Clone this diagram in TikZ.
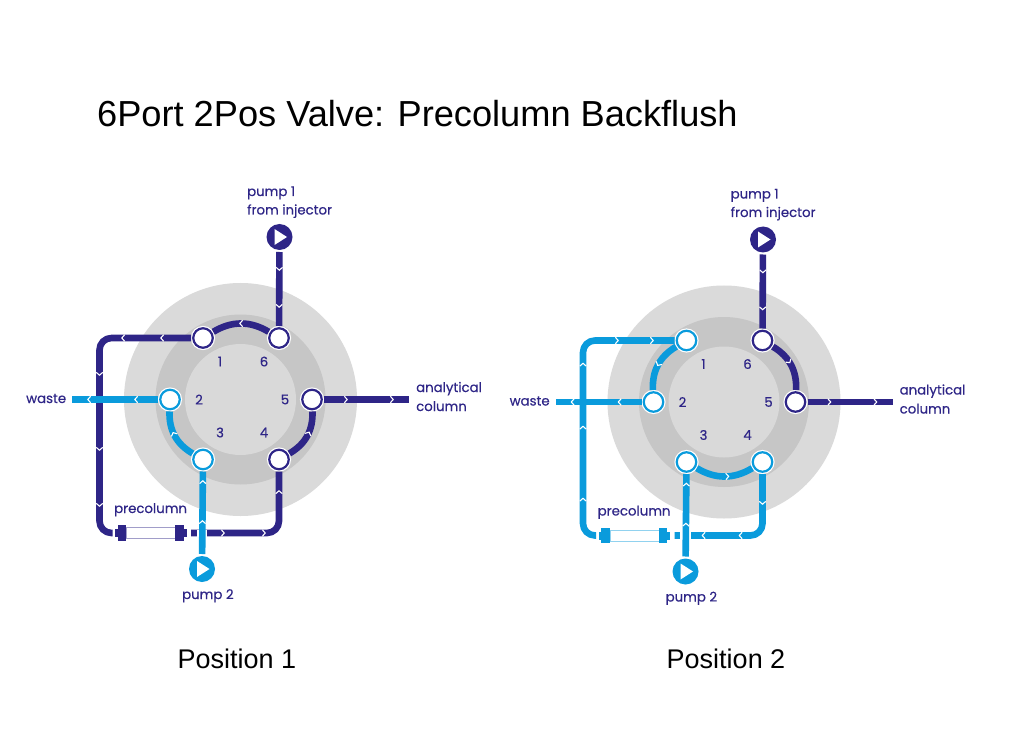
\documentclass[tikz,border=0pt]{standalone}
\usepackage{fontspec}
\setmainfont{Liberation Sans}
\newfontfamily\lab[RawFeature={embolden=0.35}]{Poppins}
\usetikzlibrary{decorations.markings}
\definecolor{dk}{HTML}{2E2587}
\definecolor{lt}{HTML}{0A9BDC}
\definecolor{gA}{HTML}{DADADA}
\definecolor{gB}{HTML}{C6C6C6}
\definecolor{gC}{HTML}{D9D9D9}
\tikzset{
  x=1pt,y=1pt,
  disc/.style={circle,draw=none,fill=#1,inner sep=0pt},
  port/.style={circle,fill=white,draw=#1,line width=2.2pt,minimum size=19.5pt,inner sep=0pt,outer sep=2.25pt,preaction={draw=white,line width=4.6pt}},
  pump/.style={circle,fill=#1,minimum size=26pt,inner sep=0pt,outer sep=2pt},
  pipe/.style={draw=#1,line width=6.6pt,line join=round},
  capn/.style={rectangle,fill=#1,inner sep=0pt,minimum width=8.5pt,minimum height=15.5pt},
  lip/.style={rectangle,fill=#1,inner sep=0pt,minimum width=3pt,minimum height=8pt},
  tube/.style={rectangle,fill=white,draw=#1!45,line width=.7pt,inner sep=0pt,minimum width=49pt,minimum height=11pt},
  txt/.style={text=dk,font=\lab\fontsize{13.3}{15}\selectfont,inner sep=0pt,anchor=base west},
  num/.style={text=dk,font=\lab\fontsize{13.3}{15}\selectfont,inner sep=0pt},
  bigtxt/.style={text=black,font=\fontsize{27}{31}\selectfont,inner sep=0pt,anchor=base},
  chev/.style={postaction={decorate,decoration={markings,mark=at position #1 with {\draw[white,line width=1.1pt,line cap=butt,line join=miter] (-1.6pt,3.2pt)--(1.2pt,0pt)--(-1.6pt,-3.2pt);}}}},
  tri/.style={fill=white,draw=none}
}
\newcommand{\Rings}{%
  \node[disc=gA,minimum size=233pt] (outer) at (0,0) {};
  \node[disc=gB,minimum size=170pt] (middle) at (0,0) {};
  \node[disc=gC,minimum size=111pt] (inner) at (0,0) {};
}
\newcommand{\Numbers}{%
  \node[num] (n1) at (-20.5,38) {1};
  \node[num] (n6) at (23.5,38) {6};
  \node[num] (n2) at (-41.5,0) {2};
  \node[num] (n5) at (44.5,0) {5};
  \node[num] (n3) at (-20.5,-33) {3};
  \node[num] (n4) at (23.5,-33) {4};
  \node[txt] (lpa) at (6.5,203.5) {pump 1};
  \node[txt] (lpb) at (6.5,185) {from injector};
  \node[txt] (lw) at (-214.5,-3.5) {waste};
  \node[txt] (laa) at (175.5,7.5) {analytical};
  \node[txt] (lab) at (175.5,-11.5) {column};
  \node[txt] (lpc) at (-126.5,-113.5) {precolumn};
  \node[txt] (lpp) at (-58.5,-199.5) {pump 2};
}
\newcommand{\Triangle}[1]{\fill[tri] ([shift={(-5,8)}]#1.center) -- ([shift={(7.5,0)}]#1.center) -- ([shift={(-5,-8)}]#1.center) -- cycle;}
\begin{document}
\begin{tikzpicture}
\useasboundingbox (0,0) rectangle (1024,748);
\fill[white] (0,0) rectangle (1024,748);
\node[bigtxt,anchor=base west,font=\fontsize{36.2}{40}\selectfont] (title) at (97,621) {6Port 2Pos Valve: Precolumn Backflush};
\node[bigtxt] (pos1) at (237,79.5) {Position 1};
\node[bigtxt] (pos2) at (726,79.5) {Position 2};

% ---------- Position 1
\begin{scope}[shift={(240.5,348.5)}]
\Rings
\node[port=dk] (p1) at (-37.5,61.5) {};
\node[port=dk] (p6) at (38.5,61.5) {};
\node[port=lt] (p2) at (-70.5,0) {};
\node[port=dk] (p5) at (71.5,0) {};
\node[port=lt] (p3) at (-37.5,-60) {};
\node[port=dk] (p4) at (38.5,-60) {};
\node[pump=dk] (pu1) at (39,162.5) {};
\node[pump=lt] (pu2) at (-38.5,-169.5) {};
\Triangle{pu1}
\Triangle{pu2}
\coordinate (tl) at (-141,61.5);
\coordinate (bl) at (-141,-133.5);
\coordinate (br) at (38.5,-133.5);
\coordinate (wend) at (-168.5,0);
\coordinate (aend) at (168.5,0);
\coordinate (pls) at (-128,-133.5);
\coordinate (prs) at (-49.5,-133.5);
\node[tube=dk] (tb) at (-89.5,-133.5) {};
\node[capn=dk] (cl) at (-118.5,-133.5) {};
\node[lip=dk] (ll) at (-124,-133.5) {};
\node[capn=dk] (cr) at (-61,-133.5) {};
\node[lip=dk] (lr) at (-55.5,-133.5) {};
\path[pipe=dk,chev=17pt,chev=54pt] (pu1) -- (p6);
\path[pipe=dk,chev=.5] (p6) to[bend right=31] (p1);
\path[pipe=dk,rounded corners=12pt] (p1) -- (tl) -- (bl) -- (pls);
\path[chev=29pt,chev=68pt] (p1) -- (tl);
\path[chev=36pt,chev=111pt,chev=167pt] (tl) -- (bl);
\path[pipe=dk,rounded corners=12pt] (prs) -- (br) -- (p4);
\path[chev=32pt,chev=73pt] (prs) -- (br);
\path[chev=41pt] (br) -- (p4);
\path[pipe=dk,chev=.56] (p4) to[bend right=31] (p5);
\path[pipe=dk,chev=22pt,chev=68pt] (p5) -- (aend);
\node[rectangle,fill=white,inner sep=0pt,minimum width=10.5pt,minimum height=7pt] (gap) at (-38.5,-133.5) {};
\path[pipe=lt,chev=32pt,chev=72pt] (pu2) -- (p3);
\path[pipe=lt,chev=.55] (p3) to[bend left=31] (p2);
\path[pipe=lt,chev=22pt,chev=69pt] (p2) -- (wend);
\Numbers
\end{scope}

% ---------- Position 2
\begin{scope}[shift={(724,346)}]
\Rings
\node[port=lt] (q1) at (-37.5,61.5) {};
\node[port=dk] (q6) at (38.5,61.5) {};
\node[port=lt] (q2) at (-70.5,0) {};
\node[port=dk] (q5) at (71.5,0) {};
\node[port=lt] (q3) at (-37.5,-60) {};
\node[port=lt] (q4) at (38.5,-60) {};
\node[pump=dk] (qu1) at (39,162.5) {};
\node[pump=lt] (qu2) at (-38.5,-169.5) {};
\Triangle{qu1}
\Triangle{qu2}
\coordinate (qtl) at (-141,61.5);
\coordinate (qbl) at (-141,-133.5);
\coordinate (qbr) at (38.5,-133.5);
\coordinate (qwend) at (-168.5,0);
\coordinate (qaend) at (168.5,0);
\coordinate (qls) at (-128,-133.5);
\coordinate (qrs) at (-49.5,-133.5);
\node[tube=lt] (qtb) at (-89.5,-133.5) {};
\node[capn=lt] (qcl) at (-118.5,-133.5) {};
\node[lip=lt] (qll) at (-124,-133.5) {};
\node[capn=lt] (qcr) at (-61,-133.5) {};
\node[lip=lt] (qlr) at (-55.5,-133.5) {};
\path[pipe=dk,chev=17pt,chev=54pt] (qu1) -- (q6);
\path[pipe=dk,chev=.43] (q6) to[bend left=31] (q5);
\path[pipe=dk,chev=22pt,chev=68pt] (q5) -- (qaend);
\path[pipe=lt,chev=.55] (q3) to[bend right=31] (q4);
\path[pipe=lt,rounded corners=12pt] (q4) -- (qbr) -- (qrs);
\path[chev=29pt] (q4) -- (qbr);
\path[chev=22pt,chev=59pt] (qbr) -- (qrs);
\path[pipe=lt,rounded corners=12pt] (qls) -- (qbl) -- (qtl) -- (q1);
\path[chev=36pt,chev=108pt,chev=171pt] (qbl) -- (qtl);
\path[chev=34pt,chev=69pt] (qtl) -- (q1);
\path[pipe=lt,chev=.49] (q1) to[bend right=31] (q2);
\node[rectangle,fill=white,inner sep=0pt,minimum width=10.5pt,minimum height=7pt] (qgap) at (-38.5,-133.5) {};
\path[pipe=lt,chev=32pt,chev=72pt] (qu2) -- (q3);
\path[pipe=lt,chev=22pt,chev=69pt] (q2) -- (qwend);
\Numbers
\end{scope}
\end{tikzpicture}
\end{document}
